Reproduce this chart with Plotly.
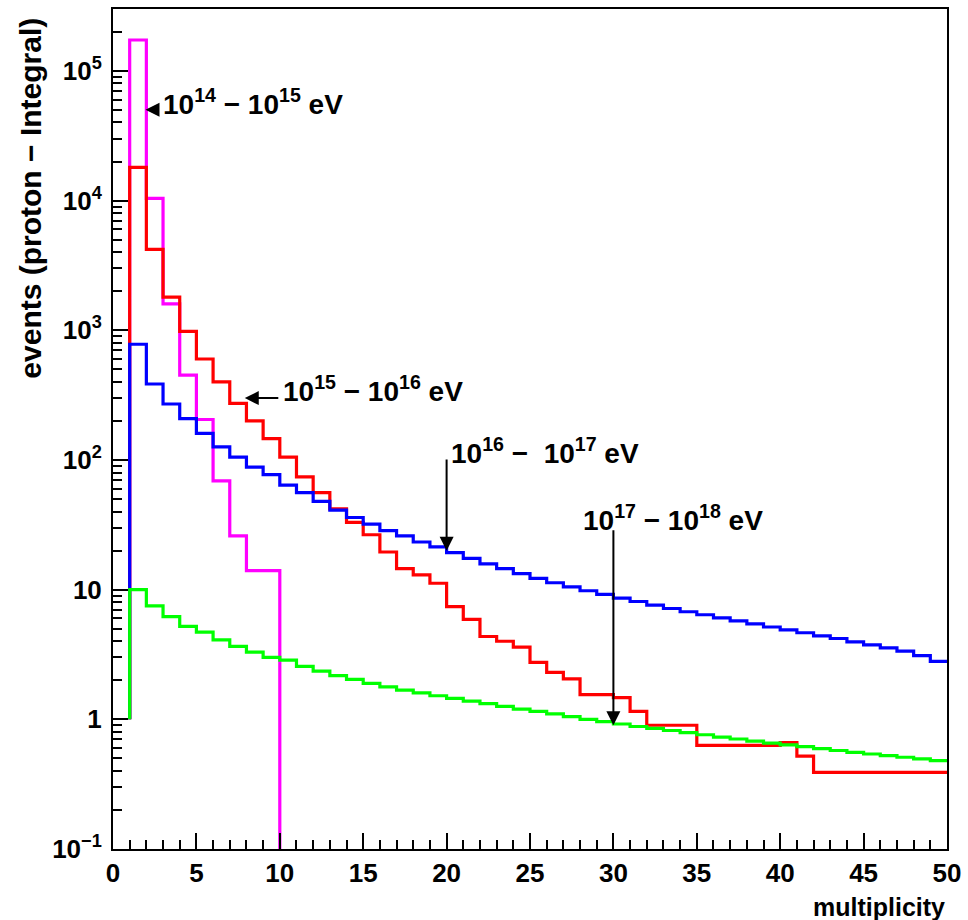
import math
import plotly.graph_objects as go

# ---------------- data (bin contents, bins of width 1 starting at multiplicity 1) ----------------
bin_low_edges = list(range(1, 50))

magenta_14_15 = [173000, 10400, 1600, 450, 205, 69, 26, 14, 14]

red_15_16 = [18000, 4200, 1800, 980, 600, 400, 273, 200, 146, 105,
             74, 56, 42, 33, 26.5, 19.5, 14.5, 13, 11.2, 7.4,
             5.9, 4.35, 4.0, 3.6, 2.75, 2.3, 2.05, 1.55, 1.55, 1.47,
             1.15, 0.9, 0.9, 0.9, 0.63, 0.63, 0.63, 0.63, 0.63, 0.66,
             0.52, 0.39, 0.39, 0.39, 0.39, 0.39, 0.39, 0.39, 0.39]

blue_16_17 = [780, 385, 270, 208, 160, 126, 105, 88, 77, 64,
              56, 48, 41, 36, 32, 28.5, 26, 23.3, 21.4, 19.3,
              17.4, 15.8, 14.5, 13.3, 12.2, 11.3, 10.5, 9.8, 9.2, 8.6,
              8.1, 7.6, 7.15, 6.75, 6.4, 6.05, 5.75, 5.45, 5.15, 4.9,
              4.65, 4.4, 4.2, 3.95, 3.75, 3.55, 3.35, 3.1, 2.8]

green_17_18 = [10, 7.5, 6.2, 5.2, 4.7, 4.1, 3.65, 3.3, 3.0, 2.86,
               2.56, 2.35, 2.17, 2.03, 1.89, 1.78, 1.68, 1.60, 1.52, 1.45,
               1.38, 1.32, 1.26, 1.20, 1.15, 1.10, 1.05, 1.00, 0.96, 0.92,
               0.88, 0.85, 0.82, 0.79, 0.76, 0.73, 0.705, 0.68, 0.655, 0.635,
               0.615, 0.595, 0.575, 0.555, 0.54, 0.525, 0.51, 0.495, 0.48]

x_ticks = [0, 5, 10, 15, 20, 25, 30, 35, 40, 45, 50]
y_ticks = [0.1, 1, 10, 100, 1000, 10000, 100000]
y_tick_text = ["10<sup>−1</sup>", "1", "10", "10<sup>2</sup>", "10<sup>3</sup>",
               "10<sup>4</sup>", "10<sup>5</sup>"]

X_MIN, X_MAX = 0, 50
Y_MIN, Y_MAX = 0.1, 3.0e5
BASE = 1  # level the histogram outline starts from at the first edge

# ---------------- helpers ----------------
def step_outline(values, drop_to_floor=False):
    xs, ys = [bin_low_edges[0]], [BASE]
    for e, v in zip(bin_low_edges, values):
        xs += [e, e + 1]
        ys += [v, v]
    if drop_to_floor:
        xs.append(bin_low_edges[len(values) - 1] + 1)
        ys.append(Y_MIN)
    return xs, ys

fig = go.Figure()
series = [
    (magenta_14_15, "#ff00ff", True),
    (red_15_16, "#ff0000", False),
    (blue_16_17, "#0000ff", False),
    (green_17_18, "#00ff00", False),
]
for vals, col, drop in series:
    xs, ys = step_outline(vals, drop)
    fig.add_trace(go.Scatter(x=xs, y=ys, mode="lines",
                             line=dict(color=col, width=3.2),
                             showlegend=False, hoverinfo="skip"))

FONT = dict(family="Liberation Sans, Arial, sans-serif", color="black")

y_minor = [m * 10 ** d for d in range(-1, 6) for m in range(2, 10)
           if Y_MIN < m * 10 ** d < Y_MAX]

fig.update_xaxes(range=[X_MIN, X_MAX], tickvals=x_ticks, ticks="inside",
                 ticklen=16, tickwidth=2, tickcolor="black",
                 minor=dict(ticks="inside", ticklen=9, dtick=1,
                            tickwidth=2, tickcolor="black"),
                 showline=True, linecolor="black", linewidth=2, mirror=True,
                 showgrid=False, zeroline=False,
                 tickfont=dict(size=26, weight="bold", **FONT),
                 ticklabelstandoff=0)
fig.update_yaxes(type="log", range=[math.log10(Y_MIN), math.log10(Y_MAX)],
                 tickvals=y_ticks, ticktext=y_tick_text, ticks="inside",
                 ticklen=15, tickwidth=2, tickcolor="black",
                 minor=dict(ticks="inside", ticklen=9, tickmode="array",
                            tickvals=y_minor, tickwidth=2, tickcolor="black"),
                 showline=True, linecolor="black", linewidth=2, mirror=True,
                 showgrid=False, zeroline=False,
                 tickfont=dict(size=26, weight="bold", **FONT),
                 ticklabelstandoff=4)

# ---------------- labels & arrows ----------------
labels = [
    # text, x(left), log10 y(center)
    ("10<sup>14</sup> − 10<sup>15</sup> eV", 2.85, 4.76),
    ("10<sup>15</sup> − 10<sup>16</sup> eV", 10.1, 2.55),
    ("10<sup>16</sup> −  10<sup>17</sup> eV", 20.15, 2.07),
    ("10<sup>17</sup> − 10<sup>18</sup> eV", 28.05, 1.55),
]
arrows = [
    # tip x, tip log10 y, tail x, tail log10 y
    (1.95, 4.70, 2.8, 4.70),
    (7.9, 2.477, 10.0, 2.477),
    (20.0, 1.30, 20.0, 2.015),
    (30.0, -0.046, 30.0, 1.469),
]
annotations = []
for t, x, ly in labels:
    annotations.append(dict(text=t, x=x, y=ly, xref="x", yref="y",
                            xanchor="left", yanchor="middle", showarrow=False,
                            font=dict(size=28, weight="bold", **FONT)))
for tx, ty, ax, ay in arrows:
    annotations.append(dict(text="", x=tx, y=ty, ax=ax, ay=ay,
                            xref="x", yref="y", axref="x", ayref="y",
                            showarrow=True, arrowhead=2, arrowsize=1.4,
                            arrowwidth=2, arrowcolor="black"))

annotations.append(dict(text="events (proton − Integral)", textangle=-90,
                        xref="paper", yref="paper", x=-0.099, y=0.992,
                        xanchor="center", yanchor="top", showarrow=False,
                        font=dict(size=30, weight="bold", **FONT)))
annotations.append(dict(text="multiplicity", xref="paper", yref="paper",
                        x=1.0, y=-0.0695, xanchor="right", yanchor="middle",
                        showarrow=False,
                        font=dict(size=25, weight="bold", **FONT)))

fig.update_layout(width=968, height=920,
                  margin=dict(l=113, r=18, t=7, b=71),
                  paper_bgcolor="white", plot_bgcolor="white",
                  annotations=annotations, font=FONT)

fig.write_html("out.html", config={"displayModeBar": False},
               post_script="document.body.style.margin='0px';"
                           "document.body.style.padding='0px';")
